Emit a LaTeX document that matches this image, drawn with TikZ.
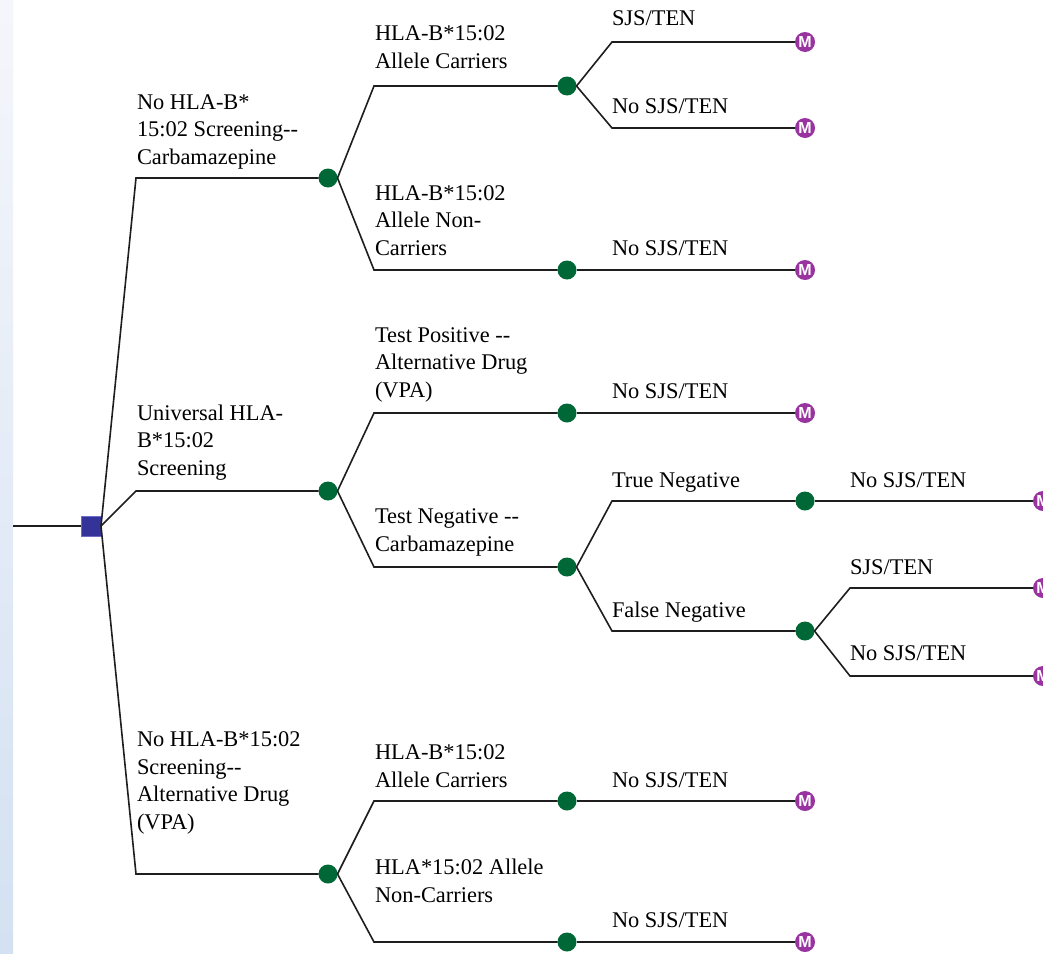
\documentclass[tikz,border=0pt]{standalone}
\usepackage{fontspec}
\setmainfont{Liberation Serif}
\newfontfamily\msans{Liberation Sans}
\definecolor{chanceGreen}{RGB}{0,104,55}
\definecolor{termPurple}{RGB}{153,51,160}
\definecolor{decBlue}{RGB}{51,51,153}
\definecolor{decBorder}{RGB}{110,110,200}
\definecolor{stripTop}{RGB}{245,246,251}
\definecolor{stripBot}{RGB}{211,225,242}
\definecolor{lineCol}{RGB}{30,30,30}
\tikzset{
  br/.style={line width=1.6pt, draw=lineCol},
  chance/.style={circle, fill=chanceGreen, minimum size=19pt, inner sep=0pt, outer sep=0pt},
  term/.style={circle, fill=termPurple, minimum size=20pt, inner sep=0pt, outer sep=0pt, text=white, font=\msans\fontsize{16}{16}\selectfont},
  dec/.style={rectangle, fill=decBlue, draw=decBorder, line width=0.8pt, minimum size=20pt, inner sep=0pt, outer sep=0pt},
  lbl/.style={anchor=base west, inner sep=0pt, outer sep=0pt, align=left, text=black, font=\fontsize{22.4}{27.5}\selectfont}
}
\begin{document}
\begin{tikzpicture}[x=1pt,y=-1pt]
\useasboundingbox (0,0) rectangle (1043,953);
\clip (0,0) rectangle (1043,953);
\fill[white] (0,0) rectangle (1043,953);
\shade[top color=stripTop, bottom color=stripBot] (0,0) rectangle (13,953);

% nodes
\node[dec] (D) at (91,526) {};
\coordinate (start) at (13,526);

\node[chance] (C1) at (328,178) {};
\node[chance] (C2) at (328,491) {};
\node[chance] (C3) at (328,874) {};

\node[chance] (C11) at (567,86) {};
\node[chance] (C12) at (567,270) {};
\node[chance] (C21) at (567,413) {};
\node[chance] (C22) at (567,567) {};
\node[chance] (C31) at (567,801) {};
\node[chance] (C32) at (567,942) {};

\node[term] (T111) at (805,42) {\bfseries M};
\node[term] (T112) at (805,128) {\bfseries M};
\node[term] (T12) at (805,270) {\bfseries M};
\node[term] (T21) at (805,413) {\bfseries M};
\node[chance] (C221) at (805,501) {};
\node[chance] (C222) at (805,631) {};
\node[term] (T31) at (805,801) {\bfseries M};
\node[term] (T32) at (805,942) {\bfseries M};

\node[term] (T2211) at (1043,501) {\bfseries M};
\node[term] (T2221) at (1043,588) {\bfseries M};
\node[term] (T2222) at (1043,676) {\bfseries M};

% corner coordinates
\coordinate (k1) at (136,178);
\coordinate (k2) at (136,491);
\coordinate (k3) at (136,874);
\coordinate (k11) at (374,86);
\coordinate (k12) at (374,270);
\coordinate (k21) at (374,413);
\coordinate (k22) at (374,567);
\coordinate (k31) at (374,801);
\coordinate (k32) at (374,942);
\coordinate (k111) at (612,42);
\coordinate (k112) at (612,128);
\coordinate (k221) at (612,501);
\coordinate (k222) at (612,631);
\coordinate (k2221) at (850,588);
\coordinate (k2222) at (850,676);

% connectors
\draw[br] (start) -- (D.west);
\draw[br] (D.east) -- (k1) -- (C1.west);
\draw[br] (D.east) -- (k2) -- (C2.west);
\draw[br] (D.east) -- (k3) -- (C3.west);

\draw[br] (C1.east) -- (k11) -- (C11.west);
\draw[br] (C1.east) -- (k12) -- (C12.west);
\draw[br] (C2.east) -- (k21) -- (C21.west);
\draw[br] (C2.east) -- (k22) -- (C22.west);
\draw[br] (C3.east) -- (k31) -- (C31.west);
\draw[br] (C3.east) -- (k32) -- (C32.west);

\draw[br] (C11.east) -- (k111) -- (T111.west);
\draw[br] (C11.east) -- (k112) -- (T112.west);
\draw[br] (C12.east) -- (T12.west);
\draw[br] (C21.east) -- (T21.west);
\draw[br] (C22.east) -- (k221) -- (C221.west);
\draw[br] (C22.east) -- (k222) -- (C222.west);
\draw[br] (C31.east) -- (T31.west);
\draw[br] (C32.east) -- (T32.west);

\draw[br] (C221.east) -- (T2211.west);
\draw[br] (C222.east) -- (k2221) -- (T2221.west);
\draw[br] (C222.east) -- (k2222) -- (T2222.west);

% labels (anchor at baseline of last line)
\node[lbl] (L1) at (137,164) {No HLA-B*\\15:02 Screening-{}-\\Carbamazepine};
\node[lbl] (L2) at (137,475) {Universal HLA-\\B*15:02\\Screening};
\node[lbl] (L3) at (137,829) {No HLA-B*15:02\\Screening-{}-\\Alternative Drug\\(VPA)};

\node[lbl] (L11) at (375,68) {HLA-B*15:02\\Allele Carriers};
\node[lbl] (L12) at (375,255) {HLA-B*15:02\\Allele Non-\\Carriers};
\node[lbl] (L21) at (375,397) {Test Positive -{}-\\Alternative Drug\\(VPA)};
\node[lbl] (L22) at (375,551) {Test Negative -{}-\\Carbamazepine};
\node[lbl] (L31) at (375,787) {HLA-B*15:02\\Allele Carriers};
\node[lbl] (L32) at (375,902) {HLA*15:02 Allele\\Non-Carriers};

\node[lbl] (L111) at (612,25) {SJS/TEN};
\node[lbl] (L112) at (612,113) {No SJS/TEN};
\node[lbl] (L121) at (612,255) {No SJS/TEN};
\node[lbl] (L211) at (612,398) {No SJS/TEN};
\node[lbl] (L221) at (612,487) {True Negative};
\node[lbl] (L222) at (612,617) {False Negative};
\node[lbl] (L311) at (612,787) {No SJS/TEN};
\node[lbl] (L321) at (612,927) {No SJS/TEN};

\node[lbl] (L2211) at (850,487) {No SJS/TEN};
\node[lbl] (L2221) at (850,574) {SJS/TEN};
\node[lbl] (L2222) at (850,660) {No SJS/TEN};
\end{tikzpicture}
\end{document}
